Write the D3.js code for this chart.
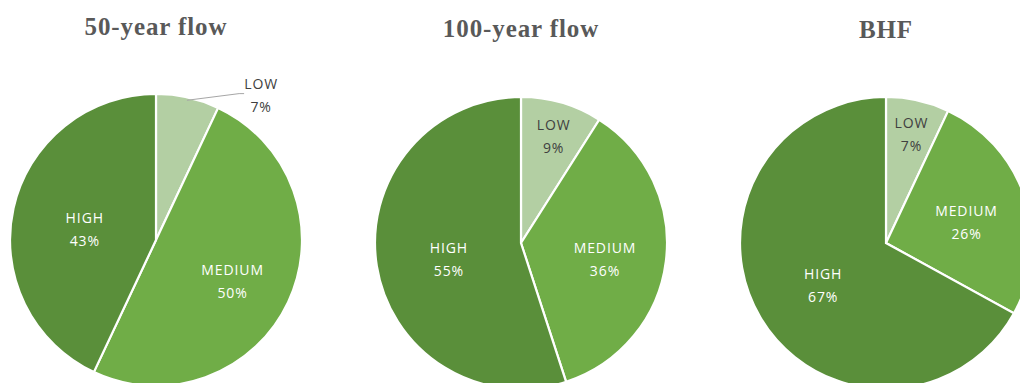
<!DOCTYPE html>
<html>
<head>
<meta charset="utf-8">
<script src="https://cdn.jsdelivr.net/npm/d3@7"></script>
<style>
  html, body { margin: 0; padding: 0; background: #fff; overflow: hidden; }
  svg { display: block; }
</style>
</head>
<body>
<svg id="chart" width="1020" height="383"></svg>
<script>
// Share of area by hazard class for each flow scenario
const titles = ["50-year flow", "100-year flow", "BHF"];
const categories = ["LOW", "MEDIUM", "HIGH"];
const flow50 = [7, 50, 43];
const flow100 = [9, 36, 55];
const flowBHF = [7, 26, 67];
const seriesList = [flow50, flow100, flowBHF];

// Layout and styling
const W = 1020, H = 383;
const radius = 146;
const centers = [[156, 240], [521, 243], [886, 243]];
const titleY = [35, 37, 38];
const colors = { LOW: "#b3cfa3", MEDIUM: "#70ad47", HIGH: "#5a8f3a" };
const textColor = { LOW: "#404040", MEDIUM: "#ffffff", HIGH: "#ffffff" };
// label radius as a fraction of the pie radius, per category
const labelR = { LOW: 0.80, MEDIUM: 0.58, HIGH: 0.50 };

const svg = d3.select("#chart");

const pie = d3.pie().sort(null).value(d => d.value).startAngle(0);
const arc = d3.arc().innerRadius(0).outerRadius(radius);

seriesList.forEach((values, i) => {
  const data = categories.map((c, k) => ({ cat: c, value: values[k] }));
  const arcs = pie(data);
  const [cx, cy] = centers[i];
  const g = svg.append("g").attr("transform", `translate(${cx},${cy})`);

  g.selectAll("path.slice")
    .data(arcs)
    .join("path")
    .attr("class", "slice")
    .attr("d", arc)
    .attr("fill", d => colors[d.data.cat])
    .attr("stroke", "#ffffff")
    .attr("stroke-width", 2.2)
    .attr("stroke-linejoin", "miter");

  // title
  svg.append("text")
    .attr("x", cx)
    .attr("y", titleY[i])
    .attr("text-anchor", "middle")
    .attr("font-family", "'Liberation Serif', 'Times New Roman', serif")
    .attr("font-weight", "bold")
    .attr("font-size", 25)
    .attr("letter-spacing", 0.9)
    .attr("fill", "#595959")
    .text(titles[i]);

  arcs.forEach(a => {
    const cat = a.data.cat;
    const mid = (a.startAngle + a.endAngle) / 2;
    let lx, ly;
    const outside = a.data.value < 8 && i === 0;
    if (outside) {
      // small slice: label moved outside with a leader line
      const edge = [radius * Math.sin(mid + 0.05), -radius * Math.cos(mid + 0.05)];
      lx = radius * 0.72; ly = -radius * 1.03;
      g.append("polyline")
        .attr("points", [[edge[0] - 8, edge[1] + 1], [lx - 22, ly + 4], [lx - 17, ly + 4]].map(p => p.join(",")).join(" "))
        .attr("fill", "none")
        .attr("stroke", "#a6a6a6")
        .attr("stroke-width", 1);
    } else {
      const r = radius * labelR[cat];
      lx = r * Math.sin(mid);
      ly = -r * Math.cos(mid);
    }
    const t = g.append("text")
      .attr("text-anchor", "middle")
      .attr("font-family", "'Open Sans', 'Noto Sans', sans-serif")
      .attr("font-size", 14)
      .attr("letter-spacing", 0.9)
      .attr("fill", outside ? "#404040" : textColor[cat]);
    t.append("tspan").attr("x", lx).attr("y", ly - 1).text(cat);
    t.append("tspan").attr("x", lx).attr("y", ly + 22).text(d3.format(".0f")(a.data.value) + "%");
  });
});
</script>
</body>
</html>
